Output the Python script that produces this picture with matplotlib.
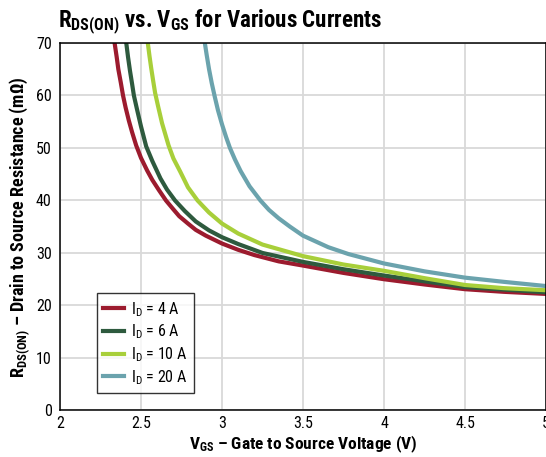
import numpy as np
from matplotlib import pyplot as plt
from matplotlib import font_manager

# pick a condensed face close to the original's
avail = {f.name for f in font_manager.fontManager.ttflist}
cond = next((n for n in ['Roboto Condensed', 'Archivo Narrow', 'Sofia Sans Condensed',
                         'Liberation Sans Narrow'] if n in avail), 'DejaVu Sans')

plt.rcParams['font.family'] = [cond, 'DejaVu Sans']
plt.rcParams['mathtext.fontset'] = 'custom'
plt.rcParams['mathtext.rm'] = cond
plt.rcParams['mathtext.it'] = cond
plt.rcParams['mathtext.bf'] = cond + ':bold'

# curves: gate voltage (V) vs R_DS(on) (mOhm)
vgs_4a = [2.327, 2.337, 2.35, 2.36, 2.375, 2.389, 2.405, 2.425, 2.445, 2.47, 2.50, 2.538, 2.57,
          2.61, 2.654, 2.70, 2.736, 2.79, 2.838, 2.9, 3.0, 3.1, 3.2, 3.35, 3.5, 3.75, 4.0,
          4.25, 4.5, 4.74, 5.0]
rds_4a = [72, 70, 67.3, 65, 62.5, 60, 57.7, 55.2, 53.0, 50.5, 48.1, 45.7, 43.9,
          42.0, 40, 38.3, 37.0, 35.6, 34.4, 33.3, 31.8, 30.6, 29.6, 28.4, 27.6, 26.2, 25.0,
          24.0, 23.1, 22.6, 22.2]

vgs_6a = [2.40, 2.409, 2.42, 2.432, 2.445, 2.456, 2.475, 2.5, 2.532, 2.57, 2.62, 2.66, 2.71,
          2.77, 2.838, 2.92, 3.0, 3.1, 3.25, 3.5, 3.75, 4.0, 4.25, 4.5, 4.75, 5.0]
rds_6a = [72, 70, 67.3, 64.7, 62.2, 60, 57.4, 54.1, 50.3, 47.5, 44.2, 42.1, 40,
          38.0, 36.0, 34.3, 33.0, 31.7, 30.0, 28.3, 26.9, 25.7, 24.6, 23.5, 23.0, 22.5]

vgs_10a = [2.535, 2.542, 2.552, 2.563, 2.575, 2.587, 2.605, 2.63, 2.67, 2.70, 2.742, 2.79, 2.849,
           2.92, 3.0, 3.1, 3.25, 3.5, 3.75, 4.0, 4.25, 4.5, 4.74, 5.0]
rds_10a = [72, 70, 67.6, 65.2, 62.8, 60.5, 58, 54.7, 50.5, 48, 45.5, 42.5, 40,
           37.7, 35.6, 33.7, 31.6, 29.4, 27.8, 26.6, 25.2, 23.9, 23.3, 22.9]

vgs_20a = [2.888, 2.894, 2.905, 2.92, 2.937, 2.955, 2.975, 3.0, 3.025, 3.049, 3.08, 3.115, 3.17,
           3.237, 3.29, 3.35, 3.42, 3.5, 3.656, 3.78, 4.0, 4.25, 4.5, 4.74, 5.0]
rds_20a = [72, 70, 67.8, 65, 62.3, 59.8, 57.2, 54.5, 52.1, 50, 47.8, 45.6, 42.7,
           40, 38.2, 36.6, 35.0, 33.3, 31.1, 29.8, 28.0, 26.5, 25.3, 24.5, 23.7]

labels = ['$\\mathregular{I_D}$ = 4 A', '$\\mathregular{I_D}$ = 6 A',
          '$\\mathregular{I_D}$ = 10 A', '$\\mathregular{I_D}$ = 20 A']
colors = ['#9c1b2e', '#2e5a3e', '#a8cf3a', '#6ba3ad']

fig = plt.figure(figsize=(5.46, 4.57), dpi=100)
ax = fig.add_axes([0.1099, 0.1018, 0.8901, 0.8042])

for v, r, lab, c in zip([vgs_4a, vgs_6a, vgs_10a, vgs_20a],
                        [rds_4a, rds_6a, rds_10a, rds_20a], labels, colors):
    ax.plot(v, r, color=c, lw=3.0, label=lab, solid_joinstyle='round')

ax.set_xlim(2, 5)
ax.set_ylim(0, 70)
ax.set_xticks([2, 2.5, 3, 3.5, 4, 4.5, 5])
ax.set_xticklabels(['2', '2.5', '3', '3.5', '4', '4.5', '5'])
ax.set_yticks(np.arange(0, 71, 10))
ax.grid(True, color='#d9d9d9', lw=1.3)
ax.set_axisbelow(True)
ax.tick_params(length=0, labelsize=11.5)
ax.tick_params(axis='y', pad=6)
ax.tick_params(axis='x', pad=4)
for s in ax.spines.values():
    s.set_linewidth(1.1)
    s.set_color('black')

ax.set_xlabel('$\\mathbf{V_{GS}}$ – Gate to Source Voltage (V)', fontsize=12.5,
              fontweight='bold', labelpad=2)
ax.set_ylabel('$\\mathbf{R_{DS(ON)}}$ – Drain to Source Resistance (m$\\mathbf{\\Omega}$)',
              fontsize=13, fontweight='bold', labelpad=3)

leg = ax.legend(loc='lower left', bbox_to_anchor=(0.0757, 0.0476), borderaxespad=0,
                fontsize=11.5, frameon=True, fancybox=False, edgecolor='black',
                handlelength=1.3, handletextpad=0.45, borderpad=0.4, labelspacing=0.25)
leg.get_frame().set_linewidth(1.0)
for h in leg.get_lines():
    h.set_linewidth(3.0)

fig.text(0.106, 0.941, '$\\mathbf{R_{DS(ON)}}$ vs. $\\mathbf{V_{GS}}$ for Various Currents',
         fontsize=16.5, fontweight='bold', ha='left', va='baseline')

fig.savefig('out.png', dpi=100)
